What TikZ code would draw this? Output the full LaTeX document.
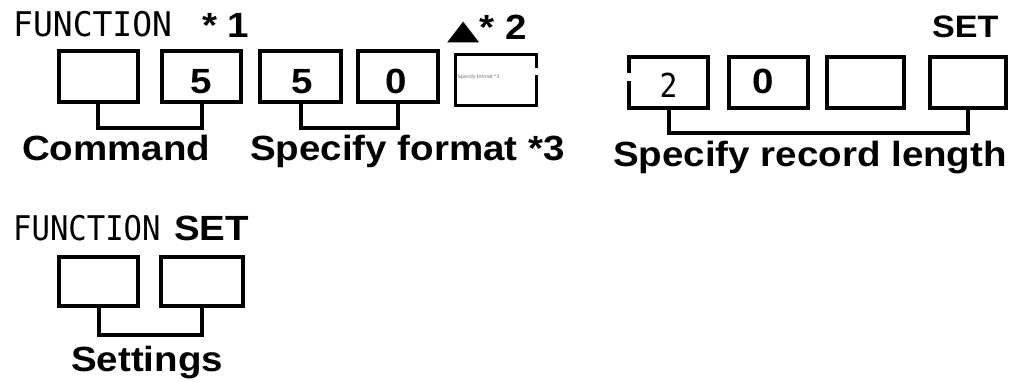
\documentclass[tikz,border=0pt]{standalone}
\usepackage{fontspec}
\usepackage{graphicx}
\newfontfamily\lblfont[FakeStretch=1.1]{Liberation Sans}
\newfontfamily\lcdfont[FakeStretch=0.9]{DejaVu Sans Mono}
\newfontfamily\lcdwidefont[FakeStretch=0.97]{DejaVu Sans Mono}
\newfontfamily\symfont{DejaVu Sans}

\tikzset{
  keybox/.style={minimum width=79pt, minimum height=51pt, inner sep=0pt},
  keyline/.style={line width=4pt},
  caption/.style={anchor=base west, inner sep=0pt, font=\lblfont\bfseries\fontsize{35}{42}\selectfont},
  lcd/.style={anchor=base west, inner sep=0pt, font=\lcdfont\fontsize{34}{40}\selectfont},
  digit/.style={anchor=base, inner sep=0pt, font=\lblfont\bfseries\fontsize{35}{42}\selectfont}
}

\begin{document}
\begin{tikzpicture}[x=1pt,y=-1pt]
      % \draw[help lines](0,0) grid (1019,381);

      % Bounding box
      \path (0,0) rectangle (1019,381);

      \draw (13,36) node (fnA)[lcd, font=\lcdwidefont\fontsize{34}{40}\selectfont] {FUNCTION};
      \draw (202,37) node (note1)[caption] {* 1};
      \draw (447,39) node (note2)[caption] {{\symfont\fontsize{42}{42}\selectfont\scalebox{1}[0.65]{▲}}* 2};
      \draw (932,37) node (setA)[caption, font=\lblfont\bfseries\fontsize{31}{36}\selectfont] {SET};

      \draw (98,76.5) node (c1)[keybox, keyline, draw] {};
      \draw (201.5,76.5) node (c2)[keybox, keyline, draw] {};
      \draw (300.5,76.5) node (f1)[keybox, keyline, draw, minimum width=81pt] {};
      \draw (398,76.5) node (f2)[keybox, keyline, draw, minimum width=80pt] {};
      \draw (496,80) node (f3)[keybox, minimum width=81pt] {};

      \draw (668.5,82.5) node (r1)[keybox] {};
      \draw (768.5,82.5) node (r2)[keybox, keyline, draw] {};
      \draw (865.5,82.5) node (r3)[keybox, keyline, draw, minimum width=77pt] {};
      \draw (968,82.5) node (r4)[keybox, keyline, draw, minimum width=76pt] {};

      % boxes with a broken edge
      \draw [line width=3pt] ([yshift=12pt]f3.east) |- (f3.north west) |- (f3.south east) -- ([yshift=5pt]f3.east);
      \draw [keyline] ([yshift=10pt]r1.west) |- (r1.north east) |- (r1.south west) -- ([yshift=2pt]r1.west);

      \draw (c2 |- 0,93) node (c2d)[digit] {5};
      \draw (f1 |- 0,93) node (f1d)[digit, xshift=2pt] {5};
      \draw (f2 |- 0,93) node (f2d)[digit, xshift=-2pt] {0};
      \draw (r1 |- 0,97) node (r1d)[anchor=base, inner sep=0pt, font=\lcdfont\fontsize{33}{40}\selectfont] {2};
      \draw (r2 |- 0,93) node (r2d)[digit, xshift=-5pt] {0};
      \draw (f3.west) node (f3t)[right, yshift=3pt, inner sep=2pt, text=black!55, font=\lblfont\fontsize{5}{6}\selectfont] {Specify format *3};

      \draw [keyline] (c1.south) -- ++(0,24) -| (c2.south);
      \draw [keyline] (f1.south) -- ++(0,24) -| (f2.south);
      \draw [keyline] (r1.south) -- ++(0,25) -| (r4.south);

      \draw (22,160) node (cmdlbl)[caption] {Command};
      \draw (250,160) node (fmtlbl)[caption] {Specify format *3};
      \draw (613,166) node (reclbl)[caption] {Specify record length};

      \draw (13,240) node (fnB)[lcd] {FUNCTION};
      \draw (174,240) node (setB)[caption] {SET};

      \draw (98.5,281.5) node (s1)[keybox, keyline, draw, minimum height=49pt] {};
      \draw (202,281.5) node (s2)[keybox, keyline, draw, minimum width=82pt, minimum height=49pt] {};
      \draw [keyline] (s1.south) -- ++(0,27) -| (s2.south);

      \draw (71,371) node (setlbl)[caption] {Settings};
    \end{tikzpicture}
\end{document}
